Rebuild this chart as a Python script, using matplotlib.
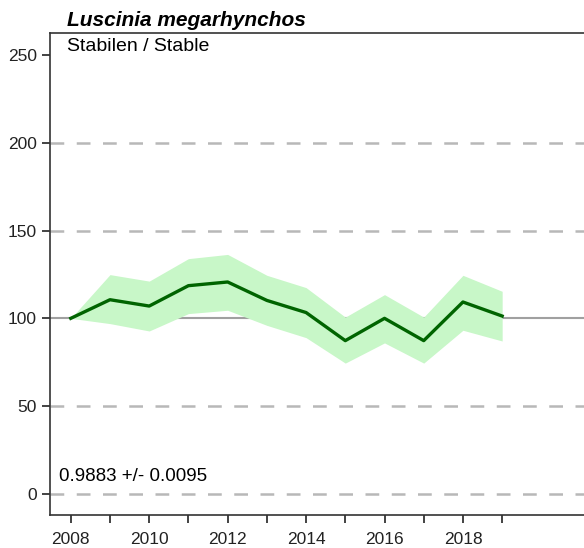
import matplotlib.pyplot as plt

plt.rcParams['font.family'] = ['Liberation Sans', 'DejaVu Sans']

# Population index, Luscinia megarhynchos
years = [2008, 2009, 2010, 2011, 2012, 2013, 2014, 2015, 2016, 2017, 2018, 2019]
index = [100, 110.6, 107, 118.6, 120.7, 110.2, 103.3, 87.3, 100, 87.3, 109.3, 101.3]
upper = [100, 124.9, 121.2, 134, 136.4, 124.5, 117.5, 100.7, 113.5, 100.7, 124.5, 115.4]
lower = [100, 97, 92.8, 102.7, 104.6, 96, 89, 74.5, 86, 74.5, 93.2, 87.1]

species = 'Luscinia megarhynchos'
trend_label = 'Stabilen / Stable'
slope_label = '0.9883 +/- 0.0095'

fig = plt.figure(figsize=(5.84, 5.48), dpi=100)
ax = fig.add_axes([50 / 584, 1 - 515 / 548, 560 / 584, 482 / 548])

for y in [0, 50, 150, 200]:
    ax.axhline(y, color='#b8b8b8', lw=1.8, ls=(0, (5.5, 5)), zorder=1)
ax.axhline(100, color='#a0a0a0', lw=1.5, zorder=1)

ax.fill_between(years, lower, upper, color='#c8f7c8', lw=0, zorder=2)
ax.plot(years, index, color='#006400', lw=2.4, zorder=3)

ax.set_xlim(2007.47, 2021.75)
ax.set_ylim(-12, 262.5)
ax.set_yticks([0, 50, 100, 150, 200, 250])
ax.set_xticks(years)
ax.set_xticklabels([str(y) if y % 2 == 0 else '' for y in years])
ax.tick_params(labelsize=12.5, length=6, width=1.2, colors='#222222')
ax.tick_params(axis='x', pad=6)

ax.spines['right'].set_visible(False)
for side in ['left', 'bottom', 'top']:
    ax.spines[side].set_linewidth(1.2)
    ax.spines[side].set_color('#333333')

fig.text(67 / 584, 1 - 21 / 548, species, fontsize=15, fontweight='bold',
         fontstyle='italic', va='center', ha='left')
ax.text(0.031, 0.99, trend_label, transform=ax.transAxes, fontsize=14,
        va='top', ha='left')
ax.text(0.016, 0.079, slope_label, transform=ax.transAxes, fontsize=13.5,
        va='center', ha='left')

fig.savefig('out.png', dpi=100)
